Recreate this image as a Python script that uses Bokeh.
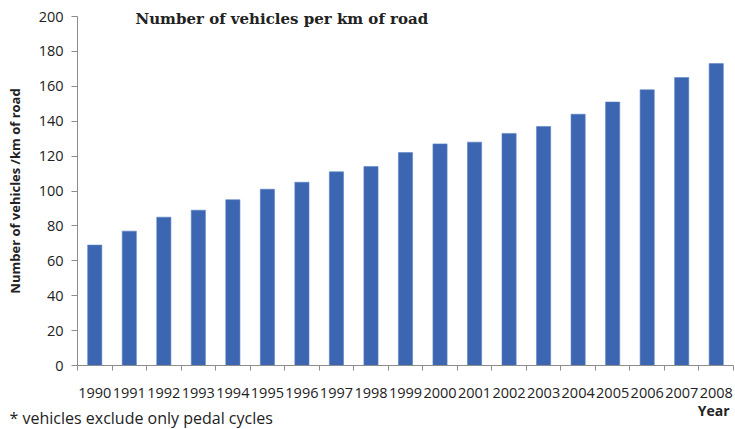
from bokeh.plotting import figure
from bokeh.models import FixedTicker, Label, Range1d
from bokeh.embed import file_html
from bokeh.resources import INLINE

years = [1990, 1991, 1992, 1993, 1994, 1995, 1996, 1997, 1998, 1999,
         2000, 2001, 2002, 2003, 2004, 2005, 2006, 2007, 2008]
vehicles_per_km = [69, 77, 85, 89, 95, 101, 105, 111, 114, 122,
                   127, 128, 133, 137, 144, 151, 158, 165, 173]
y_ticks = [0, 20, 40, 60, 80, 100, 120, 140, 160, 180, 200]

title_text = "Number of vehicles per km of road"
y_label = "Number of vehicles /km of road"
x_label = "Year"
footnote = "* vehicles exclude only pedal cycles"

BAR = "#3C66B1"
AXIS = "#8C8C8C"
TXT = "#222222"

# canvas / plot-area geometry in pixels
W, H = 735, 429
L, R, T, B = 77, 733, 16, 365
Y_MAX = 200

x0, x1 = years[0] - 0.5, years[-1] + 0.5
px_x = (R - L) / (x1 - x0)
px_y = (B - T) / Y_MAX

p = figure(width=W, height=H, output_backend="svg", toolbar_location=None,
           x_range=Range1d(x0 - L / px_x, x1 + (W - R) / px_x),
           y_range=Range1d(-(H - B) / px_y, Y_MAX + T / px_y),
           min_border=0, min_border_left=0, min_border_right=0,
           min_border_top=0, min_border_bottom=0)
p.outline_line_color = None
p.xgrid.grid_line_color = None
p.ygrid.grid_line_color = None
p.background_fill_color = "white"
p.border_fill_color = "white"

p.vbar(x=years, top=vehicles_per_km, width=0.41, bottom=0,
       fill_color=BAR, line_color="#5A82C4", line_width=0.6)

boundaries = [y - 0.5 for y in years] + [years[-1] + 0.5]
xa = p.xaxis[0]
xa.fixed_location = 0
xa.bounds = (x0, x1)
xa.ticker = FixedTicker(ticks=years, minor_ticks=boundaries)
xa.major_tick_line_color = None
xa.major_tick_out = 0
xa.major_tick_in = 0
xa.minor_tick_line_color = AXIS
xa.minor_tick_out = 5
xa.minor_tick_in = 0
xa.axis_line_color = AXIS
xa.major_label_text_font = "Open Sans"
xa.major_label_text_font_size = "14.5px"
xa.major_label_text_color = TXT
xa.major_label_standoff = 17

ya = p.yaxis[0]
ya.fixed_location = x0
ya.bounds = (0, Y_MAX)
ya.ticker = FixedTicker(ticks=y_ticks)
ya.minor_tick_line_color = None
ya.major_tick_line_color = AXIS
ya.major_tick_out = 6
ya.major_tick_in = 0
ya.axis_line_color = AXIS
ya.major_label_text_font = "Open Sans"
ya.major_label_text_font_size = "14.5px"
ya.major_label_text_color = TXT
ya.major_label_standoff = 8
ya.axis_label = y_label
ya.axis_label_text_font = "Open Sans"
ya.axis_label_text_font_size = "13px"
ya.axis_label_text_font_style = "bold"
ya.axis_label_text_color = TXT
ya.axis_label_standoff = 12

# Label screen units are measured from the frame's bottom-left corner
title = Label(x=135, y=H - 18, x_units="screen", y_units="screen",
              text=title_text, text_font="DejaVu Serif",
              text_font_size="15px", text_font_style="bold",
              text_color=TXT, text_baseline="middle")
p.add_layout(title)

year_lbl = Label(x=729, y=H - 410, x_units="screen", y_units="screen",
                 text=x_label, text_font="Open Sans", text_font_size="14px",
                 text_font_style="bold", text_color=TXT,
                 text_align="right", text_baseline="middle")
p.add_layout(year_lbl)

note = Label(x=9, y=H - 417, x_units="screen", y_units="screen",
             text=footnote, text_font="Open Sans", text_font_size="16px",
             text_color=TXT, text_baseline="middle")
p.add_layout(note)

open("out.html", "w").write(file_html(p, INLINE))
